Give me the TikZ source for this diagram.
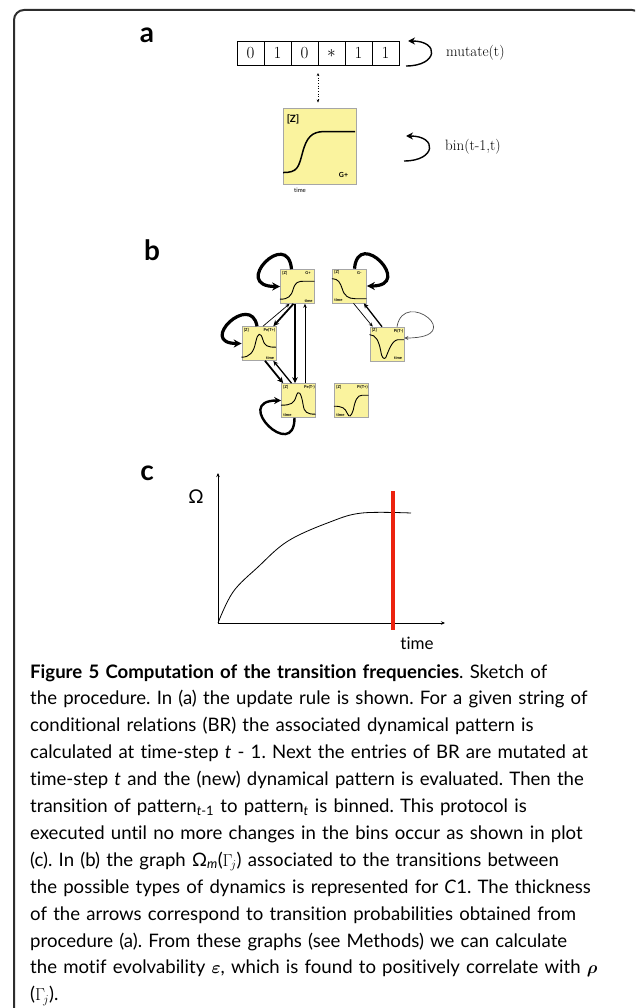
\documentclass[tikz,border=0pt]{standalone}
\usepackage{fontspec}
\usepackage{amsmath}
\usepackage{tikz}
\usetikzlibrary{arrows.meta, positioning, calc}
\newfontfamily\capfont{Lato}[Ligatures={NoCommon}]
\definecolor{boxyellow}{RGB}{250,243,158}
\definecolor{frameline}{RGB}{45,45,45}
\definecolor{stopred}{RGB}{236,34,14}
\frenchspacing

\begin{document}
\begin{tikzpicture}[x=1pt, y=-1pt,
  frame/.style={draw=frameline, line width=2pt, rounded corners=10pt},
  panel/.style={inner sep=0, font=\capfont\bfseries\fontsize{28}{28}\selectfont},
  cell/.style={draw, line width=0.8pt, outer sep=0, minimum width=27pt, minimum height=24pt, inner sep=0, font=\fontsize{17}{17}\selectfont},
  rulelabel/.style={anchor=west, inner sep=0, font=\fontsize{15}{15}\selectfont},
  cyc/.style={-{Stealth[length=7pt,width=7pt]}, line width=1.4pt},
  dotarr/.style={{Stealth[length=3pt,width=2.5pt]}-{Stealth[length=3pt,width=2.5pt]}, dotted, line width=0.7pt},
  bigdyn/.style={draw=gray!70, line width=0.9pt, fill=boxyellow, minimum width=73pt, minimum height=76pt, inner sep=0},
  dyn/.style={draw=gray!70, line width=0.6pt, fill=boxyellow, minimum size=34pt, inner sep=0},
  tiny/.style={inner sep=0, font=\capfont\bfseries\fontsize{4}{4}\selectfont},
  curve/.style={line width=0.9pt, line cap=round},
  bloop/.style={line width=3.2pt, -{Stealth[length=8pt,width=8pt]}},
  bloopmid/.style={line width=2.4pt, -{Stealth[length=7pt,width=7pt]}},
  bloopthin/.style={line width=0.7pt, draw=gray!60!black, -{Stealth[length=4pt,width=4pt]}},
  tthick/.style={line width=1.8pt, -{Stealth[length=6pt,width=5.5pt]}},
  tmid/.style={line width=1.3pt, -{Stealth[length=5pt,width=4.5pt]}},
  tthin/.style={line width=0.7pt, -{Stealth[length=4pt,width=3.5pt]}},
  axis/.style={line width=0.9pt, -{Stealth[length=4pt,width=3.5pt]}},
  stopline/.style={draw=stopred, line width=4pt},
  caption/.style={anchor=base west, text width=620pt, align=left, inner sep=0, font=\capfont\fontsize{18.6}{26.9}\selectfont}
]
\useasboundingbox (0,0) rectangle (635,1008);
\clip (0,0) rectangle (635,1008);
\draw[frame] (14,1040) -- (14,10) -- (642,10) -- (642,1040);

% (a) update rule
\node[panel] (pa) at (147,35) {a};
\node[cell] (c1) at (250.5,53) {0};
\node[cell, right=0pt of c1] (c2) {1};
\node[cell, right=0pt of c2] (c3) {0};
\node[cell, right=0pt of c3] (c4) {$*$};
\node[cell, right=0pt of c4] (c5) {1};
\node[cell, right=0pt of c5] (c6) {1};
\node[rulelabel] (mutate) at (446,53) {mutate(t)};
\coordinate (mutA) at (406,66);
\coordinate (mutB) at (408,41);
\draw[cyc] (mutA) to[out=0, in=0, out distance=32pt, in distance=32pt] (mutB);

\node[bigdyn] (zbox) at (319.5,146) {};
\node[inner sep=0, font=\capfont\bfseries\fontsize{10}{10}\selectfont] (zboxZ) at (293,119) {[Z]};
\node[inner sep=0, font=\capfont\bfseries\fontsize{7}{7}\selectfont] (zboxN) at (343.5,174.5) {G+};
\node[inner sep=0, font=\capfont\fontsize{6}{6}\selectfont] (zboxT) at (300,190) {time};
\begin{scope}[shift={(zbox.north west)}]
\draw[line width=1.5pt] (0.5,65) .. controls (15,65) and (16,60) .. (20,45) .. controls (24,30) and (29,24) .. (42,24) -- (72.5,24);
\end{scope}
\draw[dotarr] ([yshift=-8pt]c3.south east) -- ([xshift=-1.5pt, yshift=5pt]zbox.north);

\node[rulelabel] (bin) at (445,147) {bin(t-1,t)};
\coordinate (binA) at (404,161);
\coordinate (binB) at (406,136);
\draw[cyc] (binA) to[out=0, in=0, out distance=32pt, in distance=32pt] (binB);

% (b) graph of dynamics
\node[panel] (pb) at (152,250) {b};
\node[dyn] (gplus) at (297.5,286.5) {};
\node[dyn] (gminus) at (349.5,286) {};
\node[dyn] (peTp) at (259,343.5) {};
\node[dyn] (piTm) at (387,344) {};
\node[dyn] (peTm) at (298.5,400.5) {};
\node[dyn] (piTp) at (351.5,400.5) {};

\node[tiny, anchor=north west] (gplusZ) at ([xshift=2pt, yshift=-2pt]gplus.north west) {[Z]};
\node[tiny, anchor=north east] (gplusN) at ([xshift=-4pt, yshift=-2pt]gplus.north east) {G+};
\node[tiny, anchor=south east] (gplusT) at ([xshift=-2pt, yshift=1.5pt]gplus.south east) {time};
\node[tiny, anchor=north west] (gminusZ) at ([xshift=2pt, yshift=-2pt]gminus.north west) {[Z]};
\node[tiny, anchor=north east] (gminusN) at ([xshift=-5pt, yshift=-3pt]gminus.north east) {G-};
\node[tiny, anchor=south west] (gminusT) at ([xshift=2pt, yshift=1.5pt]gminus.south west) {time};
\node[tiny, anchor=north west] (peTpZ) at ([xshift=2pt, yshift=-2pt]peTp.north west) {[Z]};
\node[tiny, anchor=north east] (peTpN) at ([xshift=-1pt, yshift=-2pt]peTp.north east) {Pe(T+)};
\node[tiny, anchor=south east] (peTpT) at ([xshift=-2pt, yshift=1.5pt]peTp.south east) {time};
\node[tiny, anchor=north west] (piTmZ) at ([xshift=2pt, yshift=-2pt]piTm.north west) {[Z]};
\node[tiny, anchor=north east] (piTmN) at ([xshift=-1pt, yshift=-2pt]piTm.north east) {Pi(T-)};
\node[tiny, anchor=south east] (piTmT) at ([xshift=-2pt, yshift=1.5pt]piTm.south east) {time};
\node[tiny, anchor=north west] (peTmZ) at ([xshift=2pt, yshift=-2pt]peTm.north west) {[Z]};
\node[tiny, anchor=north east] (peTmN) at ([xshift=-1pt, yshift=-2pt]peTm.north east) {Pe(T-)};
\node[tiny, anchor=south west] (peTmT) at ([xshift=2pt, yshift=1.5pt]peTm.south west) {time};
\node[tiny, anchor=north west] (piTpZ) at ([xshift=2pt, yshift=-2pt]piTp.north west) {[Z]};
\node[tiny, anchor=north east] (piTpN) at ([xshift=-1pt, yshift=-2pt]piTp.north east) {Pi(T+)};
\node[tiny, anchor=south west] (piTpT) at ([xshift=2pt, yshift=1.5pt]piTp.south west) {time};

\begin{scope}[shift={(gplus.north west)}]
\draw[curve] (0,30) .. controls (8,30) and (11,27) .. (13,20) .. controls (15,13) and (18,12) .. (24,12) -- (34,12);
\end{scope}
\begin{scope}[shift={(gminus.north west)}]
\draw[curve] (0,10) .. controls (6,10) and (8,14) .. (10,20) .. controls (12,27) and (16,30) .. (23,30) -- (34,30);
\end{scope}
\begin{scope}[shift={(peTp.north west)}]
\draw[curve] (0,31) .. controls (8,31) and (12,26) .. (14,16) .. controls (16,6) and (19,6) .. (21,13) .. controls (23,20) and (26,21) .. (34,21);
\end{scope}
\begin{scope}[shift={(piTm.north west)}]
\draw[curve] (0,8) .. controls (6,8) and (9,14) .. (11,24) .. controls (12,31) and (14,33) .. (16,31) .. controls (19,24) and (22,14) .. (28,13) -- (34,13);
\end{scope}
\begin{scope}[shift={(peTm.north west)}]
\draw[curve] (0,22) .. controls (10,22) and (13,20) .. (15,13) .. controls (17,6) and (20,9) .. (22,22) .. controls (23,29) and (26,31) .. (34,31);
\end{scope}
\begin{scope}[shift={(piTp.north west)}]
\draw[curve] (0,23) .. controls (8,23) and (11,25) .. (13,30) .. controls (15,35) and (17,33) .. (19,27) .. controls (21,17) and (23,12) .. (28,12) -- (34,12);
\end{scope}

\draw[bloop] ([xshift=-6pt]gplus.north) to[out=95, in=180, out distance=42pt, in distance=50pt] (gplus.west);
\draw[bloop] ([xshift=5pt]gminus.north) to[out=85, in=0, out distance=42pt, in distance=48pt] (gminus.east);
\draw[bloop] ([xshift=-2pt]peTp.north) to[out=100, in=180, out distance=35pt, in distance=45pt] (peTp.west);
\draw[bloopthin] ([xshift=10pt]piTm.north) to[out=80, in=0, out distance=40pt, in distance=65pt] ([yshift=6pt]piTm.east);
\draw[bloopmid] ([xshift=-4pt]peTm.south) to[out=-90, in=180, out distance=45pt, in distance=50pt] (peTm.west);

\draw[tthick] ([xshift=-2.5pt]gplus.south) -- ([xshift=-3.5pt]peTm.north);
\draw[tthin] ([xshift=6.5pt]peTm.north) -- ([xshift=7.5pt]gplus.south);
\draw[tthick] ([xshift=-4pt]gplus.south) -- ([xshift=-3pt]peTp.north east);
\draw[tthin] ([xshift=4pt]peTp.north) -- ([xshift=-8pt]gplus.south);
\draw[tthick] ([xshift=6pt]peTp.south) -- ([xshift=2pt]peTm.north west);
\draw[tmid] ([xshift=-7pt]peTm.north) -- ([xshift=-3pt]peTp.south east);
\draw[tthin] ([xshift=4pt]gminus.south) -- ([xshift=3pt]piTm.north west);
\draw[tmid] ([xshift=-5pt]piTm.north) -- ([xshift=-3pt]gminus.south east);

% (c) convergence of the bins
\node[panel] (pc) at (147,473) {c};
\coordinate (orig) at (218,623);
\coordinate (ytip) at (218,473);
\coordinate (xtip) at (445,623);
\draw[axis] (orig) -- (ytip);
\draw[axis] (orig) -- (xtip);
\node[inner sep=0, font=\capfont\fontsize{19}{19}\selectfont] (omega) at (196,497) {Ω};
\node[inner sep=0, font=\capfont\fontsize{17}{17}\selectfont] (tlabel) at (417,643) {time};
\draw[line width=0.8pt] plot[smooth, tension=0.6] coordinates {(218,623) (233,592) (258,567) (288,541) (330,522) (362,513) (411,513)};
\coordinate (redtop) at (393,491);
\coordinate (redbot) at (393,630);
\draw[stopline] (redtop) -- (redbot);

% caption
\node[caption] (cap) at (30,678) {\textbf{Figure 5 Computation of the transition frequencies}. Sketch of\\
the procedure. In (a) the update rule is shown. For a given string of\\
conditional relations (BR) the associated dynamical pattern is\\
calculated at time-step \textit{t} - 1. Next the entries of BR are mutated at\\
time-step \textit{t} and the (new) dynamical pattern is evaluated. Then the\\
transition of pattern\textsubscript{\textit{t}-1} to pattern\textsubscript{\textit{t}} is binned. This protocol is\\
executed until no more changes in the bins occur as shown in plot\\
(c). In (b) the graph Ω\textsubscript{\textit{m}}($\Gamma_{\!j}$) associated to the transitions between\\
the possible types of dynamics is represented for \textit{C}1. The thickness\\
of the arrows correspond to transition probabilities obtained from\\
procedure (a). From these graphs (see Methods) we can calculate\\
the motif evolvability {\boldmath$\varepsilon$}, which is found to positively correlate with {\boldmath$\rho$}\\
($\Gamma_{\!j}$).};
\end{tikzpicture}
\end{document}
